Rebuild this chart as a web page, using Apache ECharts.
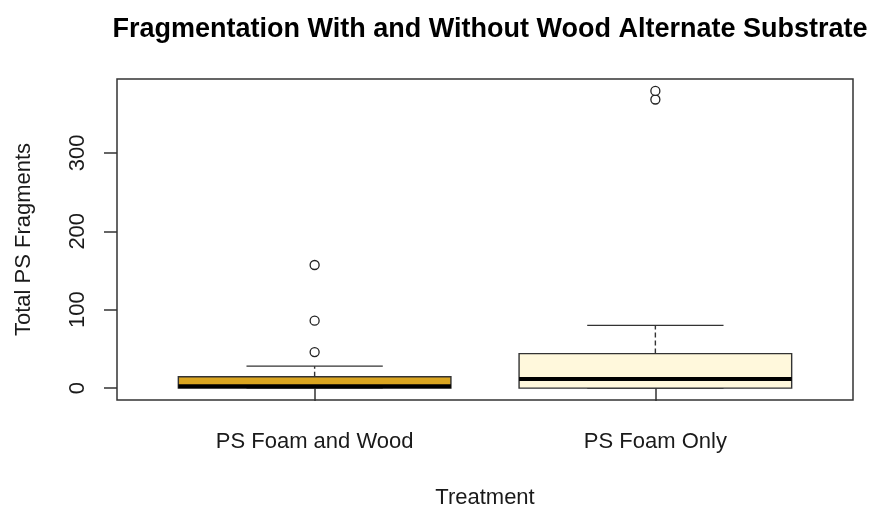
<!DOCTYPE html>
<html>
<head>
<meta charset="utf-8">
<script src="https://cdn.jsdelivr.net/npm/echarts@6/dist/echarts.min.js"></script>
<style>
  html, body { margin: 0; padding: 0; background: #fff; }
  #chart { width: 871px; height: 510px; }
</style>
</head>
<body>
<div id="chart"></div>
<script>
// Box-plot summary per treatment group
const categories = ['PS Foam and Wood', 'PS Foam Only'];
const whiskerLow = [0, 0];
const lowerHinge = [0, 0];
const medians = [2.5, 11.5];
const upperHinge = [14.5, 44];
const whiskerHigh = [28, 80];
const outliers = [[46, 86, 157], [368, 379]];
const boxColors = ['#DAA520', '#FFF8DC'];
const yTicks = [0, 100, 200, 300];

const FONT = "'Liberation Sans', Arial, sans-serif";
const GRID = { left: 117, top: 79, right: 18, bottom: 110 };

// R-style axis limits: groups at 1..n, boxwex 0.8, 4% padding
const n = categories.length;
const xMin = 0.5 - 0.04 * n, xMax = n + 0.5 + 0.04 * n;
const allVals = [].concat(whiskerLow, whiskerHigh, ...outliers);
const yLo = Math.min(...allVals), yHi = Math.max(...allVals);
const yPad = 0.04 * (yHi - yLo);
const boxWex = 0.8, stapleWex = 0.5;

const boxData = categories.map((c, i) => [i + 1, whiskerLow[i], lowerHinge[i], medians[i], upperHinge[i], whiskerHigh[i]]);
const outlierData = [];
outliers.forEach((arr, i) => arr.forEach(v => outlierData.push([i + 1, v])));

const chart = echarts.init(document.getElementById('chart'), null, { renderer: 'canvas' });

chart.setOption({
  animation: false,
  backgroundColor: '#ffffff',
  title: {
    text: 'Fragmentation With and Without Wood Alternate Substrate',
    left: GRID.left + (871 - GRID.left - GRID.right) / 2,
    textAlign: 'center',
    top: 11,
    textStyle: { fontFamily: FONT, fontWeight: 'bold', fontSize: 27, color: '#000' }
  },
  grid: {
    left: GRID.left, top: GRID.top, right: GRID.right, bottom: GRID.bottom,
    outerBoundsMode: 'none', containLabel: false,
    show: true, borderColor: '#333', borderWidth: 1.5, backgroundColor: 'transparent'
  },
  xAxis: {
    type: 'value', min: xMin, max: xMax,
    name: 'Treatment', nameLocation: 'middle', nameGap: 87,
    nameTextStyle: { fontFamily: FONT, fontSize: 22, color: '#1a1a1a' },
    splitLine: { show: false },
    axisLine: { show: false },
    axisTick: { show: true, customValues: categories.map((c, i) => i + 1), length: 13, lineStyle: { color: '#333', width: 1.5 } },
    axisLabel: {
      customValues: categories.map((c, i) => i + 1),
      formatter: v => categories[Math.round(v) - 1] || '',
      margin: 31, fontFamily: FONT, fontSize: 22, color: '#1a1a1a'
    }
  },
  yAxis: {
    type: 'value', min: yLo - yPad, max: yHi + yPad,
    name: 'Total PS Fragments', nameLocation: 'middle', nameGap: 82,
    nameTextStyle: { fontFamily: FONT, fontSize: 22, color: '#1a1a1a' },
    splitLine: { show: false },
    axisLine: { show: false },
    axisTick: { show: true, customValues: yTicks, length: 13, lineStyle: { color: '#333', width: 1.5 } },
    axisLabel: {
      customValues: yTicks, rotate: 90, margin: 28,
      fontFamily: FONT, fontSize: 22, color: '#1a1a1a'
    }
  },
  series: [
    {
      type: 'custom',
      data: boxData,
      encode: { x: 0, y: [1, 2, 3, 4, 5] },
      renderItem: function (params, api) {
        const xv = api.value(0);
        const lo = api.coord([xv, api.value(1)]);
        const q1 = api.coord([xv, api.value(2)]);
        const md = api.coord([xv, api.value(3)]);
        const q3 = api.coord([xv, api.value(4)]);
        const hi = api.coord([xv, api.value(5)]);
        const bl = api.coord([xv - boxWex / 2, 0])[0];
        const br = api.coord([xv + boxWex / 2, 0])[0];
        const sl = api.coord([xv - boxWex * stapleWex / 2, 0])[0];
        const sr = api.coord([xv + boxWex * stapleWex / 2, 0])[0];
        const cx = lo[0];
        const lineStyle = { stroke: '#333', lineWidth: 1.4, fill: null };
        const dashStyle = { stroke: '#333', lineWidth: 1.4, lineDash: [5, 3], fill: null };
        return {
          type: 'group',
          children: [
            { type: 'line', shape: { x1: cx, y1: q3[1], x2: cx, y2: hi[1] }, style: dashStyle },
            { type: 'line', shape: { x1: cx, y1: q1[1], x2: cx, y2: lo[1] }, style: dashStyle },
            { type: 'line', shape: { x1: sl, y1: hi[1], x2: sr, y2: hi[1] }, style: lineStyle },
            { type: 'line', shape: { x1: sl, y1: lo[1], x2: sr, y2: lo[1] }, style: lineStyle },
            { type: 'rect', shape: { x: bl, y: q3[1], width: br - bl, height: q1[1] - q3[1] },
              style: { fill: boxColors[params.dataIndex], stroke: '#333', lineWidth: 1.4 } },
            { type: 'line', shape: { x1: bl, y1: md[1], x2: br, y2: md[1] }, style: { stroke: '#000', lineWidth: 4 } }
          ]
        };
      },
      z: 2
    },
    {
      type: 'scatter',
      data: outlierData,
      symbol: 'circle',
      symbolSize: 9,
      itemStyle: { color: '#fff', borderColor: '#222', borderWidth: 1.3, opacity: 1 },
      z: 3
    }
  ]
});
</script>
</body>
</html>
